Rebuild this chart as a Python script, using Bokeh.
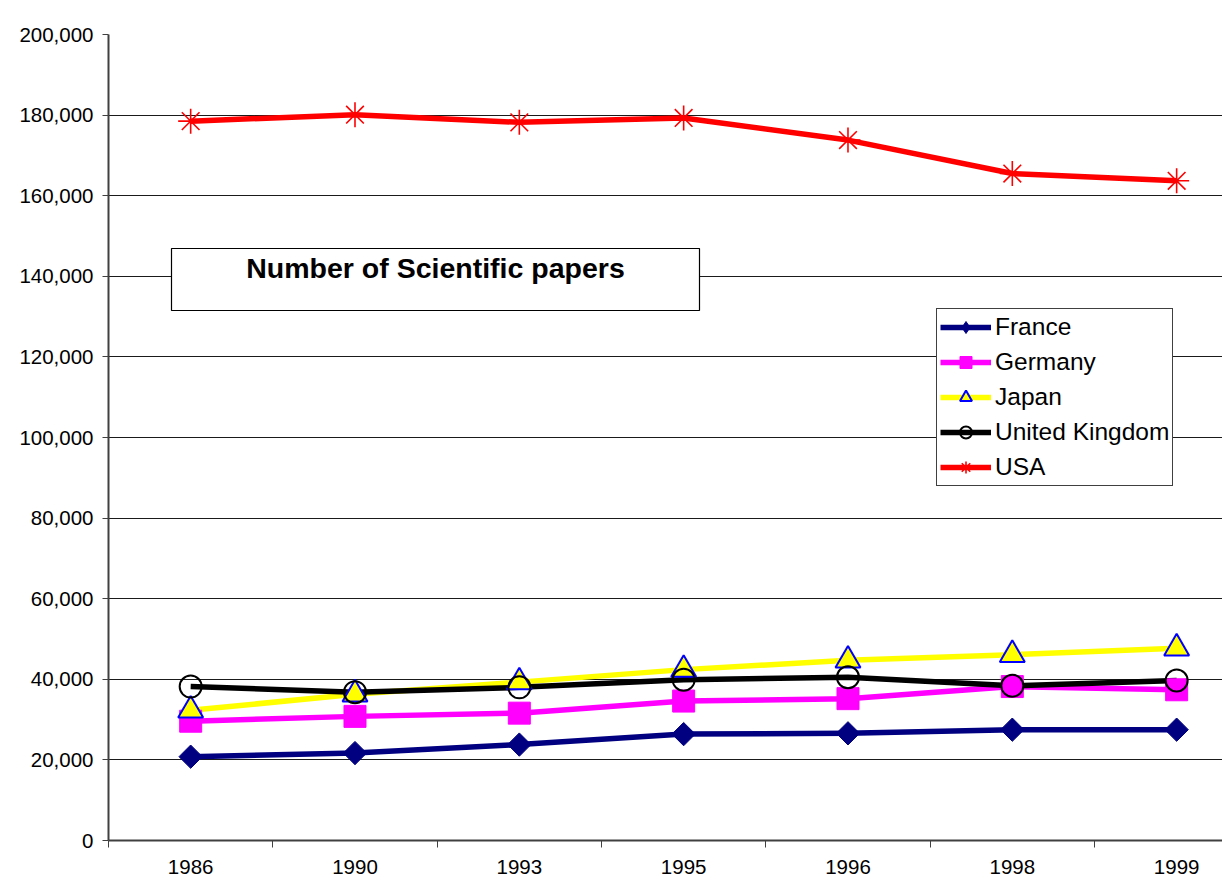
from bokeh.plotting import figure
from bokeh.models import (Range1d, FixedTicker, NumeralTickFormatter, Legend, LegendItem,
                          BoxAnnotation, Label)
from bokeh.embed import file_html
from bokeh.resources import INLINE
import numpy as np

# Publications per year, by country
years = ["1986", "1990", "1993", "1995", "1996", "1998", "1999"]
france = [20800, 21700, 23800, 26400, 26600, 27500, 27500]
germany = [29600, 30800, 31600, 34600, 35200, 38200, 37400]
japan = [32300, 36300, 39300, 42400, 44700, 46100, 47700]
united_kingdom = [38200, 36800, 38000, 39900, 40500, 38400, 39700]
usa = [178500, 180100, 178200, 179300, 173800, 165500, 163700]

y_ticks = [0, 20000, 40000, 60000, 80000, 100000, 120000, 140000, 160000, 180000, 200000]

FONT = "Liberation Sans"
W, H = 1222, 896
LEFT, TOP, BOTTOM = 108, 34, 56
STEP = 164.33  # pixels per category slot

xs = list(range(len(years)))
x_end = -0.5 + (W - LEFT) / STEP

p = figure(width=W, height=H, output_backend="svg", toolbar_location=None,
           x_range=Range1d(-0.5, x_end), y_range=Range1d(0, 200000),
           min_border_left=LEFT, min_border_right=0, min_border_top=TOP,
           min_border_bottom=BOTTOM)
p.outline_line_color = None
p.background_fill_color = "white"

# frame helpers (pixels -> data)
frame_h = H - TOP - BOTTOM
def dx(px):
    return (px - LEFT) / STEP - 0.5
def dy(py):
    return (H - BOTTOM - py) / frame_h * 200000

# x axis: labels at category centres, ticks between categories
p.xaxis.ticker = FixedTicker(ticks=xs, minor_ticks=[i - 0.5 for i in xs])
p.xaxis.major_label_overrides = {i: y for i, y in enumerate(years)}
p.xaxis.major_tick_out = 0
p.xaxis.major_tick_in = 0
p.xaxis.minor_tick_out = 7
p.xaxis.minor_tick_in = 0
p.xaxis.minor_tick_line_color = "#404040"
p.xaxis.major_label_standoff = 12
p.xgrid.visible = False

p.yaxis.ticker = FixedTicker(ticks=y_ticks)
p.yaxis.formatter = NumeralTickFormatter(format="0,0")
p.yaxis.major_tick_out = 6
p.yaxis.major_tick_in = 0
p.yaxis.minor_tick_out = 0
p.yaxis.minor_tick_in = 0
p.yaxis.major_tick_line_color = "#404040"
p.yaxis.major_label_standoff = 9
p.ygrid.ticker = FixedTicker(ticks=y_ticks)
p.ygrid.grid_line_color = "#1a1a1a"
p.ygrid.grid_line_width = 1

for ax in (p.xaxis, p.yaxis):
    ax.axis_line_color = "#404040"
    ax.axis_line_width = 2
    ax.major_label_text_font = FONT
    ax.major_label_text_font_size = "20.5px"
    ax.major_label_text_color = "black"

series = [
    ("France", france, "#000080", dict(marker="square", angle=np.pi / 4, size=16.5,
                                       fill_color="#000080", line_color="#000080")),
    ("Germany", germany, "#FF00FF", dict(marker="square", size=22,
                                         fill_color="#FF00FF", line_color="#FF00FF")),
    ("Japan", japan, "#FFFF00", dict(marker="triangle", size=25, fill_color="#FFFF00",
                                     line_color="#0000FF", line_width=2)),
    ("United Kingdom", united_kingdom, "#000000", dict(marker="circle", size=22,
                                                        fill_color=None, line_color="black",
                                                        line_width=2)),
    ("USA", usa, "#FF0000", dict(marker="asterisk", size=25, line_color="#FF0000",
                                 line_width=1.6)),
]

lines = []
for name, vals, color, _ in series:
    lines.append(p.line(xs, vals, line_color=color, line_width=5.5, line_join="round"))
marks = []
for name, vals, color, style in series:
    marks.append(p.scatter(xs, vals, **style))

# legend key for France: an upright diamond (the plotted one is a turned square)
france_key = p.scatter([np.nan], [np.nan], marker="diamond", size=20,
                       fill_color="#000080", line_color="#000080")
legend_marks = [france_key] + marks[1:]

# chart title box
p.add_layout(BoxAnnotation(left=dx(171), right=dx(699), top=dy(248), bottom=dy(310),
                           fill_color="white", fill_alpha=1, line_color="black",
                           line_alpha=1, line_width=1.2, level="overlay"))
p.add_layout(Label(x=dx(435), y=dy(267), text="Number of Scientific papers",
                   text_font=FONT, text_font_size="28.5px", text_font_style="bold",
                   text_color="black", text_align="center", text_baseline="middle",
                   level="overlay"))

legend = Legend(items=[LegendItem(label=s[0], renderers=[l, m])
                       for s, l, m in zip(series, lines, legend_marks)],
                location=(936 - LEFT, H - BOTTOM - 486), margin=0, padding=3,
                spacing=5, glyph_width=51, glyph_height=30, label_height=30,
                label_standoff=4, label_text_font=FONT, label_text_font_size="24.5px",
                label_text_color="black",
                border_line_color="#404040", border_line_width=1.2, border_line_alpha=1,
                background_fill_color="white", background_fill_alpha=1)
p.add_layout(legend)

open("out.html", "w").write(file_html(p, INLINE))
